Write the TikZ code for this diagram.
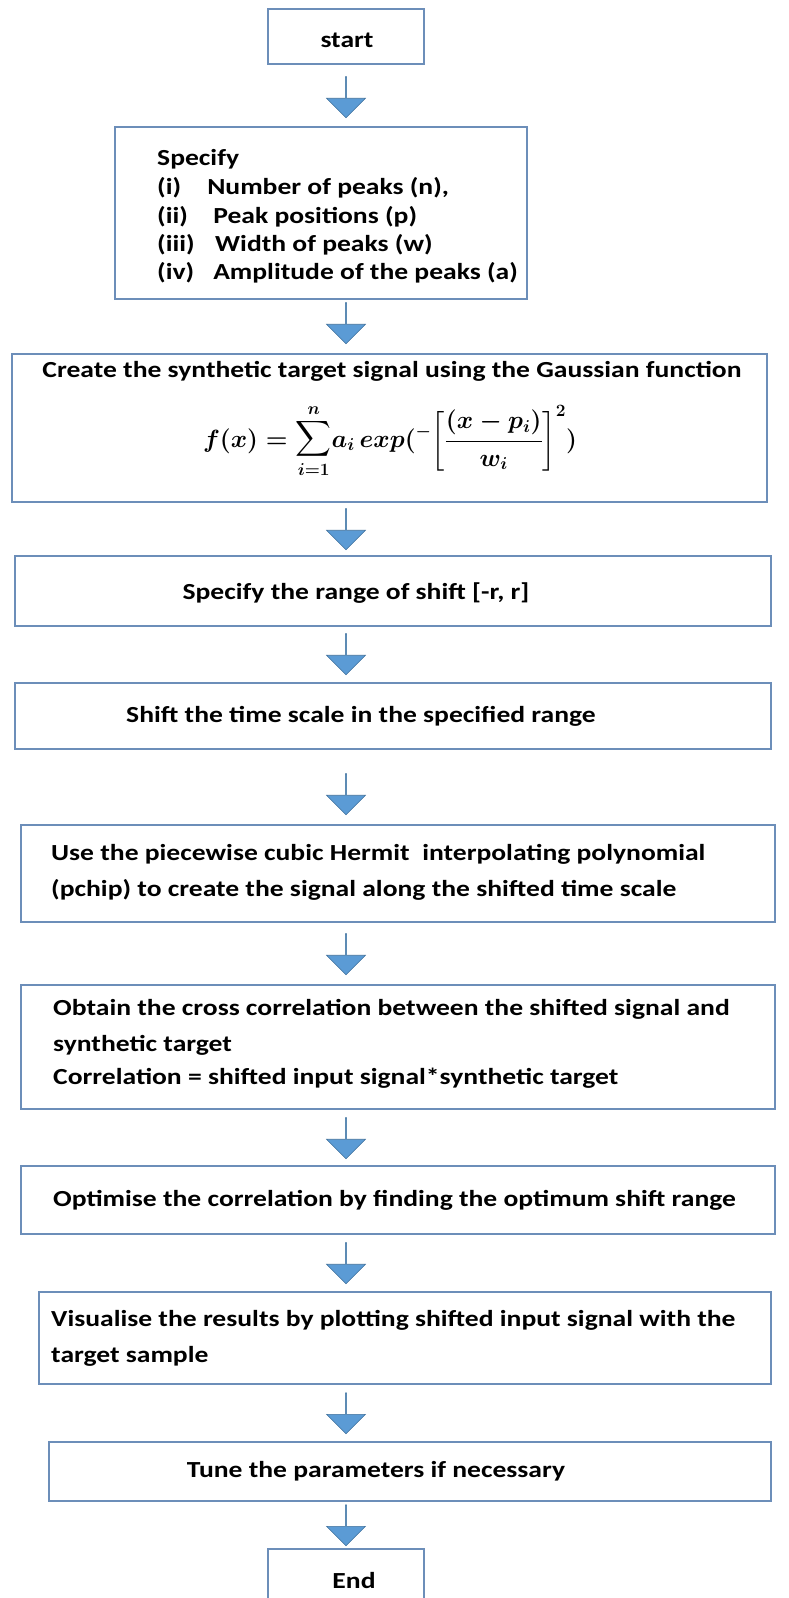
\documentclass[tikz,border=0pt]{standalone}
\usepackage{amsmath}
\usepackage{graphicx}
\usepackage{fontspec}
\setmainfont{Carlito}
\usetikzlibrary{shapes.arrows}
\definecolor{boxline}{RGB}{108,142,185}
\definecolor{arrowfill}{RGB}{91,155,213}
\definecolor{arrowline}{RGB}{65,113,156}
\newcommand{\wide}[1]{\scalebox{1.2}[1]{#1}}
\newcommand{\bigsum}{\vcenter{\hbox{\mathversion{bold}\scalebox{1.0}[1.0]{$\displaystyle\sum_{i=1}^{n}$}}}}
\newcommand{\gaussformula}{\scalebox{1.0}[1]{\mathversion{bold}$\displaystyle f(x)=\bigsum a_i\,exp({}^{-}\!\left[\frac{(x-p_i)}{w_i}\right]^{2})$}}
\begin{document}
\begin{tikzpicture}[x=1pt,y=-1pt,
  frame/.style={draw=boxline,line width=1.6pt},
  txt/.style={inner sep=0pt,font=\fontsize{23}{34}\selectfont\bfseries,anchor=west,align=left},
  ctxt/.style={inner sep=0pt,font=\fontsize{23}{34}\selectfont\bfseries},
  mathtxt/.style={inner sep=0pt,font=\fontsize{24}{28}\selectfont},
  darrow/.style={single arrow,shape border rotate=270,draw=arrowline,fill=arrowfill,line width=0.6pt,
    minimum width=39pt,single arrow head extend=10pt,single arrow tip angle=90,minimum height=41pt,inner sep=0pt}
]
\useasboundingbox (0,0) rectangle (788,1598);
\fill[white] (0,0) rectangle (788,1598);
% boxes
\draw[frame] (268,9) rectangle (424,64);
\draw[frame] (115,127) rectangle (527,299);
\draw[frame] (12,354) rectangle (767,502);
\draw[frame] (15,556) rectangle (771,626);
\draw[frame] (15,683) rectangle (771,749);
\draw[frame] (21,825) rectangle (775,922);
\draw[frame] (21,985) rectangle (775,1109);
\draw[frame] (21,1166) rectangle (775,1234);
\draw[frame] (39,1292) rectangle (771,1384);
\draw[frame] (49,1442) rectangle (771,1501);
\draw[frame] (268,1549) rectangle (424,1620);
% texts
\node[ctxt] (t1) at (347,40) {\wide{start}};
\node[txt] (t2a) at (157,159) {\wide{Specify}};
\node[txt] (t2b) at (157,188) {\wide{\makebox[41.7pt][l]{(i)}Number of peaks (n),}};
\node[txt] (t2c) at (157,217) {\wide{\makebox[46.7pt][l]{(ii)}Peak positions (p)}};
\node[txt] (t2d) at (157,245) {\wide{\makebox[48.3pt][l]{(iii)}Width of peaks (w)}};
\node[txt] (t2e) at (157,273) {\wide{\makebox[46.7pt][l]{(iv)}Amplitude of the peaks (a)}};
\node[ctxt] (t3) at (392,371) {\wide{Create the synthetic target signal using the Gaussian function}};
\node[mathtxt] (t3f) at (390,441) {\gaussformula};
\node[ctxt] (t4) at (356,593) {\wide{Specify the range of shift [-r, r]}};
\node[ctxt] (t5) at (361,716) {\wide{Shift the time scale in the specified range}};
\node[txt] (t6a) at (51,854) {\wide{Use the piecewise cubic Hermit\ \ interpolating polynomial}};
\node[txt] (t6b) at (51,890) {\wide{(pchip) to create the signal along the shifted time scale}};
\node[txt] (t7a) at (53,1009) {\wide{Obtain the cross correlation between the shifted signal and}};
\node[txt] (t7b) at (53,1045) {\wide{synthetic target}};
\node[txt] (t7c) at (53,1078) {\wide{Correlation = shifted input signal*synthetic target}};
\node[txt] (t8) at (53,1200) {\wide{Optimise the correlation by finding the optimum shift range}};
\node[txt] (t9a) at (51,1320) {\wide{Visualise the results by plotting shifted input signal with the}};
\node[txt] (t9b) at (51,1356) {\wide{target sample}};
\node[ctxt] (t10) at (376,1471) {\wide{Tune the parameters if necessary}};
\node[ctxt] (t11) at (354,1580) {\wide{End}};
% arrows
\node[darrow] (a1) at (346,97) {};
\node[darrow] (a2) at (346,323) {};
\node[darrow] (a3) at (346,529) {};
\node[darrow] (a4) at (346,654) {};
\node[darrow] (a5) at (346,794) {};
\node[darrow] (a6) at (346,954) {};
\node[darrow] (a7) at (346,1138) {};
\node[darrow] (a8) at (346,1263) {};
\node[darrow] (a9) at (346,1413) {};
\node[darrow] (a10) at (346,1525) {};
\end{tikzpicture}
\end{document}
